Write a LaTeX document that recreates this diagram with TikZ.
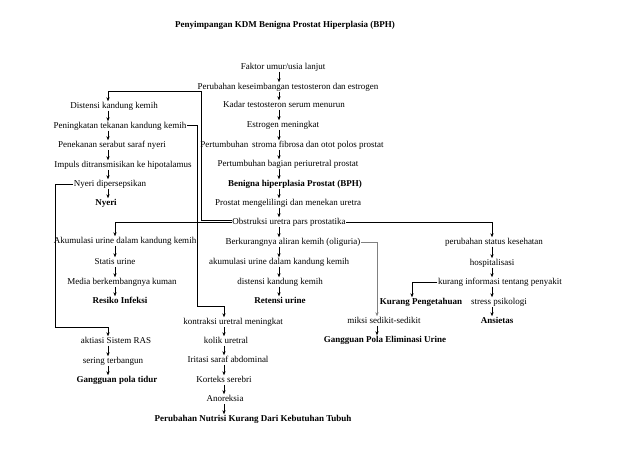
\documentclass[tikz,border=0pt]{standalone}
\usepackage{fontspec}
\setmainfont{Liberation Serif}
\usetikzlibrary{arrows.meta}
\begin{document}
\begin{tikzpicture}[x=1pt,y=-1pt,
  font=\fontsize{9}{10}\selectfont,
  t/.style={inner sep=0.5pt, text height=6.3pt, text depth=1.8pt},
  b/.style={t, font=\fontsize{9}{10}\selectfont\bfseries},
  arr/.style={-{Stealth[length=4pt,width=3.2pt]}, line width=0.75pt},
  arrE/.style={-{Stealth[length=4pt,width=3.2pt]}, line width=1pt},
  greyline/.style={draw=black!50}]
\useasboundingbox (0,0) rectangle (638,452);
\fill[white] (0,0) rectangle (638,452);

% column coordinates
\coordinate (cC) at (279,0);
\coordinate (cL) at (108,0);
\coordinate (cA) at (115,0);
\coordinate (cK) at (224,0);
\coordinate (cR) at (492,0);
\coordinate (cM) at (377,0);
\coordinate (cKP) at (412,0);

% title
\node[b] (title) at (285,25) {Penyimpangan KDM Benigna Prostat Hiperplasia (BPH)};

% centre column
\node[t] (fak) at (283,67) {Faktor umur/usia lanjut};
\node[t] (pkt) at (288,87) {Perubahan keseimbangan testosteron dan estrogen};
\node[t] (kad) at (284,105) {Kadar testosteron serum menurun};
\node[t] (est) at (283,125) {Estrogen meningkat};
\node[t] (pst) at (292,145) {Pertumbuhan\hspace{1.5pt} stroma fibrosa dan otot polos prostat};
\node[t] (pbp) at (288,164) {Pertumbuhan bagian periuretral prostat};
\node[b] (bph) at (295,184) {Benigna hiperplasia Prostat (BPH)};
\node[t] (pmu) at (288,203) {Prostat mengelilingi dan menekan uretra};
\node[t] (obs) at (289,222) {Obstruksi uretra pars prostatika};
\node[t] (oli) at (293,242) {Berkurangnya aliran kemih (oliguria)};
\node[t] (aku) at (279,262) {akumulasi urine dalam kandung kemih};
\node[t] (dkk) at (280,282) {distensi kandung kemih};
\node[b] (ret) at (280,301) {Retensi urine};

% left upper column
\node[t] (dis) at (114,106) {Distensi kandung kemih};
\node[t] (pen) at (120,126) {Peningkatan tekanan kandung kemih};
\node[t] (pes) at (112,145) {Penekanan serabut saraf nyeri};
\node[t] (imp) at (123,165) {Impuls ditransmisikan ke hipotalamus};
\node[t] (nyd) at (110,184) {Nyeri dipersepsikan};
\node[b] (nye) at (106,203) {Nyeri};

% left middle column
\node[t] (akl) at (125,241) {Akumulasi urine dalam kandung kemih};
\node[t] (sta) at (115,262) {Statis urine};
\node[t] (med) at (122,282) {Media berkembangnya kuman};
\node[b] (res) at (120,301) {Resiko Infeksi};

% left lower column
\node[t] (akt) at (116,341) {aktiasi Sistem RAS};
\node[t] (ser) at (113,361) {sering terbangun};
\node[b] (gpt) at (117,380) {Gangguan pola tidur};

% middle lower column
\node[t] (kon) at (233,322) {kontraksi uretral meningkat};
\node[t] (kol) at (226,341) {kolik uretral};
\node[t] (iri) at (228,360) {Iritasi saraf abdominal};
\node[t] (kor) at (224,380) {Korteks serebri};
\node[t] (ano) at (225,399) {Anoreksia};
\node[b] (pnk) at (253,419) {Perubahan Nutrisi Kurang Dari Kebutuhan Tubuh};

% right column
\node[t] (psk) at (494,242) {perubahan status kesehatan};
\node[t] (hos) at (492,263) {hospitalisasi};
\node[t] (kin) at (500,282) {kurang informasi tentang penyakit};
\node[b] (kpg) at (421,302) {Kurang Pengetahuan};
\node[t] (sps) at (499,302) {stress psikologi};
\node[b] (ans) at (497,321) {Ansietas};
\node[t] (mik) at (384,321) {miksi sedikit-sedikit};
\node[b] (gpe) at (385,340) {Gangguan Pola Eliminasi Urine};

% straight arrows: centre
\foreach \a/\b in {fak/pkt,pkt/kad,kad/est,est/pst,pst/pbp,pbp/bph,bph/pmu,pmu/obs,obs/oli,oli/aku,aku/dkk,dkk/ret}
  \draw[arr] (\a.south -| cC) -- (\b.north -| cC);
% left upper
\foreach \a/\b in {dis/pen,pen/pes,pes/imp,imp/nyd,nyd/nye}
  \draw[arr] (\a.south -| cL) -- (\b.north -| cL);
% left middle
\foreach \a/\b in {akl/sta,sta/med,med/res}
  \draw[arr] (\a.south -| cA) -- (\b.north -| cA);
% left lower
\foreach \a/\b in {akt/ser,ser/gpt}
  \draw[arr] (\a.south -| cL) -- (\b.north -| cL);
% middle lower
\foreach \a/\b in {kon/kol,kol/iri,iri/kor,kor/ano,ano/pnk}
  \draw[arr] (\a.south -| cK) -- (\b.north -| cK);
% right
\foreach \a/\b in {psk/hos,hos/kin,kin/sps,sps/ans}
  \draw[arr] (\a.south -| cR) -- (\b.north -| cR);
\draw[arr] (mik.south -| cM) -- (gpe.north -| cM);

% elbow connectors
\coordinate (j1) at (201,92);
\coordinate (j4) at (197,306);
\coordinate (j5) at (55,327);
\draw[arrE] ([yshift=2pt]obs.west) -| (j1) -| (dis.north -| cL);
\draw[arrE] (obs.west) -| (akl.north -| cA);
\draw[arrE] (obs.east) -| (psk.north -| cR);
\draw[arrE] (pen.east) -| (j4) -| (kon.north -| cK);
\draw[arrE] (nyd.west) -| (j5) -| (akt.north -| cL);
\draw[arrE, greyline] (oli.east) -| (mik.north -| cM);
\draw[arrE] (kin.west) -| (kpg.north -| cKP);
\end{tikzpicture}
\end{document}
